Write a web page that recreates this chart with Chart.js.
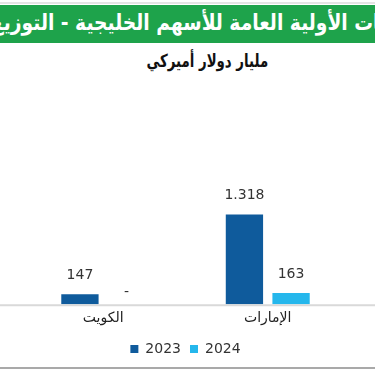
<!DOCTYPE html>
<html lang="ar">
<head>
    <meta charset="UTF-8">
    <title>الاكتتابات الأولية العامة للأسهم الخليجية</title>
    <script src="https://cdn.jsdelivr.net/npm/chart.js"></script>
    <style>
        body {
            margin: 0;
            width: 375px;
            height: 375px;
            position: relative;
            overflow: hidden;
            background: #ffffff;
            font-family: 'DejaVu Sans', sans-serif;
        }
        .topline {
            position: absolute; left: 0; top: 2px; width: 375px; height: 2px;
            background: #e4e4e4;
        }
        .banner {
            position: absolute; left: 0; top: 5px; width: 375px; height: 38px;
            background: #1ea34b; overflow: hidden;
        }
        .banner .inner {
            position: absolute; top: 5px; right: 0;
            direction: rtl; white-space: nowrap;
            color: #ffffff; font-weight: bold; font-size: 22px;
            transform: scaleX(0.85); transform-origin: right center;
        }
        .subtitle {
            position: absolute; left: 0; top: 50px; width: 415px;
            text-align: center; direction: rtl;
            font-weight: bold; font-size: 18px; color: #111;
            transform: scaleX(0.74); transform-origin: 207px center;
        }
        .chart-box {
            position: absolute; left: 0; top: 80px; width: 375px; height: 286px;
        }
        .bottomline {
            position: absolute; left: 0; top: 367px; width: 375px; height: 2px;
            background: #a9a9a9;
        }
    </style>
</head>
<body>
    <div class="topline"></div>
    <div class="banner">
        <div class="inner" id="titleInner"><span id="hiddenPart">الاكتتابا</span><span>ت الأولية العامة للأسهم الخليجية - التوزيع الجغرافي</span></div>
    </div>
    <div class="subtitle">مليار دولار أميركي</div>
    <div class="chart-box"><canvas id="barChart"></canvas></div>
    <div class="bottomline"></div>

    <script>
        // data
        const categories = ['الكويت', 'الإمارات'];
        const seriesNames = ['2023', '2024'];
        const values2023 = [147, 1318];
        const values2024 = [0, 163];

        // push the start of the title past the right edge, as in the cropped original
        const inner = document.getElementById('titleInner');
        inner.style.right = (-document.getElementById('hiddenPart').offsetWidth * 0.85 + 2) + 'px';

        const fmt = v => v === 0 ? '-' : v.toLocaleString('de-DE');

        // value labels over the bars
        const barLabels = {
            id: 'barLabels',
            afterDatasetsDraw(chart) {
                const ctx = chart.ctx;
                ctx.save();
                ctx.font = '14px "DejaVu Sans"';
                ctx.fillStyle = '#333333';
                ctx.textAlign = 'center';
                ctx.textBaseline = 'middle';
                chart.data.datasets.forEach((ds, i) => {
                    chart.getDatasetMeta(i).data.forEach((bar, j) => {
                        const off = ds.data[j] === 0 ? 12 : 19;
                        ctx.fillText(fmt(ds.data[j]), bar.x, bar.y - off);
                    });
                });
                ctx.restore();
            }
        };

        // baseline across the full width
        const baseLine = {
            id: 'baseLine',
            beforeDatasetsDraw(chart) {
                const ctx = chart.ctx;
                const y = chart.scales.y.getPixelForValue(0);
                ctx.save();
                ctx.strokeStyle = '#d9d9d9';
                ctx.lineWidth = 2;
                ctx.beginPath();
                ctx.moveTo(0, y + 1);
                ctx.lineTo(chart.width, y + 1);
                ctx.stroke();
                ctx.restore();
            }
        };

        const ctx = document.getElementById('barChart').getContext('2d');
        new Chart(ctx, {
            type: 'bar',
            data: {
                labels: categories,
                datasets: [
                    { label: seriesNames[0], data: values2023, backgroundColor: '#0f5b9c' },
                    { label: seriesNames[1], data: values2024, backgroundColor: '#25b7ec' }
                ]
            },
            options: {
                responsive: true,
                maintainAspectRatio: false,
                animation: false,
                categoryPercentage: 0.567,
                barPercentage: 0.8,
                layout: { padding: { left: 21, right: 25, top: 20, bottom: 0 } },
                plugins: {
                    legend: {
                        position: 'bottom',
                        labels: {
                            boxWidth: 8,
                            boxHeight: 8,
                            padding: 9,
                            color: '#333333',
                            font: { family: 'DejaVu Sans', size: 14 }
                        }
                    },
                    tooltip: { enabled: false }
                },
                scales: {
                    x: {
                        grid: { display: false, drawTicks: false },
                        border: { display: false },
                        ticks: {
                            padding: 6,
                            color: '#222222',
                            font: { family: 'DejaVu Sans', size: 14 }
                        }
                    },
                    y: {
                        display: false,
                        min: 0,
                        max: 3000
                    }
                }
            },
            plugins: [baseLine, barLabels]
        });
    </script>
</body>
</html>
